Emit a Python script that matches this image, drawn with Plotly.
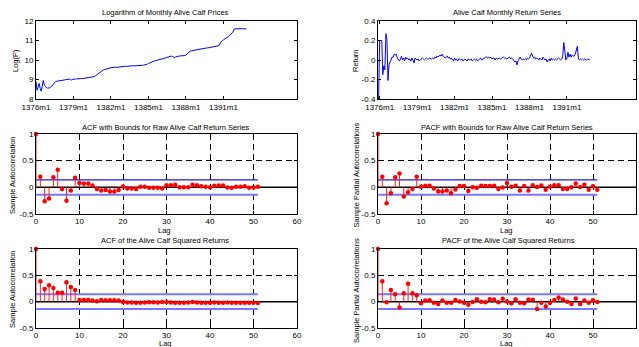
import plotly.graph_objects as go

W, H = 639, 347

# ---------------- data ----------------
log_price = [
    8.90, 8.45, 8.60, 8.80, 8.55, 8.40, 8.65, 8.95, 8.70, 8.60,
    8.58, 8.56, 8.55, 8.57, 8.60, 8.66, 8.73, 8.80, 8.86, 8.90,
    8.91, 8.92, 8.93, 8.94, 8.95, 8.96, 8.98, 8.99, 9.00, 9.00,
    9.01, 9.00, 9.02, 9.00, 8.97, 9.00, 9.02, 9.02, 9.03, 9.03,
    9.04, 9.04, 9.04, 9.05, 9.05, 9.05, 9.06, 9.06, 9.07, 9.07,
    9.08, 9.09, 9.10, 9.10, 9.11, 9.12, 9.15, 9.19, 9.23, 9.27,
    9.31, 9.36, 9.41, 9.45, 9.48, 9.50, 9.51, 9.53, 9.55, 9.57,
    9.60, 9.61, 9.62, 9.62, 9.61, 9.63, 9.64, 9.62, 9.63, 9.64,
    9.65, 9.64, 9.66, 9.67, 9.66, 9.67, 9.68, 9.67, 9.68, 9.69,
    9.68, 9.69, 9.70, 9.70, 9.71, 9.70, 9.71, 9.71, 9.72, 9.71,
    9.72, 9.72, 9.73, 9.73, 9.74, 9.75, 9.77, 9.79, 9.82, 9.85,
    9.88, 9.91, 9.93, 9.95, 9.96, 9.97, 9.98, 9.99, 10.00, 10.01,
    10.02, 10.04, 10.06, 10.08, 10.10, 10.12, 10.14, 10.17, 10.19, 10.20,
    10.20, 10.18, 10.14, 10.13, 10.16, 10.18, 10.20, 10.20, 10.21, 10.21,
    10.21, 10.22, 10.22, 10.23, 10.26, 10.32, 10.38, 10.42, 10.45, 10.47,
    10.48, 10.50, 10.51, 10.52, 10.53, 10.54, 10.55, 10.57, 10.58, 10.60,
    10.60, 10.61, 10.60, 10.61, 10.62, 10.62, 10.63, 10.64, 10.65, 10.66,
    10.67, 10.68, 10.68, 10.69, 10.70, 10.71, 10.74, 10.88, 10.97, 11.00,
    11.03, 11.06, 11.10, 11.14, 11.18, 11.22, 11.27, 11.32, 11.37, 11.42,
    11.57, 11.60, 11.60, 11.60, 11.61, 11.60, 11.60, 11.61, 11.60, 11.60,
    11.61, 11.60, 11.60,
]

returns = [
    -0.40, 0.20, 0.20, 0.20, -0.15, -0.06, -0.10, 0.27, 0.21, -0.21,
    -0.05, -0.02, 0.00, 0.03, 0.03, 0.06, 0.05, 0.06, 0.02, 0.00,
    -0.01, 0.01, 0.04, 0.00, 0.02, -0.01, 0.03, 0.01, 0.02, 0.00,
    0.01, -0.01, 0.02, 0.00, -0.03, 0.02, 0.01, 0.00, 0.01, -0.01,
    0.00, 0.01, 0.02, 0.01, 0.00, 0.01, 0.02, 0.01, 0.01, 0.02,
    0.01, 0.01, 0.02, 0.01, 0.03, 0.02, 0.04, 0.03, 0.04, 0.05,
    0.04, 0.06, 0.04, 0.03, 0.02, 0.03, 0.04, 0.02, 0.03, 0.01,
    0.02, 0.00, -0.01, 0.02, 0.00, 0.01, -0.01, 0.01, 0.01, 0.00,
    0.01, -0.01, 0.00, 0.01, 0.00, -0.01, 0.01, 0.00, 0.00, 0.01,
    -0.01, 0.00, 0.01, 0.00, 0.01, -0.01, 0.00, 0.01, 0.02, 0.00,
    0.01, 0.02, 0.02, 0.03, 0.03, 0.02, 0.03, 0.02, 0.03, 0.01,
    0.02, 0.02, 0.00, 0.02, 0.01, 0.02, 0.02, 0.01, 0.02, 0.02,
    0.03, 0.02, 0.02, 0.01, 0.02, 0.02, 0.03, 0.01, 0.02, 0.01,
    0.00, -0.02, -0.01, -0.05, -0.01, 0.02, 0.03, 0.01, 0.00, 0.01,
    0.00, 0.01, 0.00, 0.02, 0.01, 0.02, 0.05, 0.07, 0.04, 0.02,
    0.03, 0.01, 0.02, 0.01, 0.00, 0.02, 0.01, 0.00, 0.03, 0.01,
    0.00, 0.01, -0.02, 0.00, 0.01, -0.01, 0.02, 0.00, 0.01, 0.00,
    0.01, 0.00, 0.01, 0.02, 0.01, 0.00, 0.01, 0.04, 0.18, 0.10,
    0.00, 0.02, 0.08, 0.03, 0.06, 0.03, 0.05, 0.04, 0.04, 0.06,
    0.09, 0.14, 0.02, 0.00, 0.01, 0.00, 0.01, 0.00, 0.01, 0.00,
    0.00, 0.01, 0.00, 0.00,
]

date_labels = ["1376m1", "1379m1", "1382m1", "1385m1", "1388m1", "1391m1"]
date_label_months = [1, 37, 73, 109, 145, 181]

lags = list(range(52))

acf_raw = [
    1.00, 0.20, -0.26, -0.21, 0.19, 0.33, -0.03, -0.25, -0.06, 0.18,
    0.08, 0.07, 0.07, 0.035, -0.03, -0.06, -0.05, -0.08, -0.08, -0.05,
    0.015, -0.02, -0.02, -0.03, 0.01, 0.01, -0.01, -0.01, -0.01, -0.02,
    0.04, 0.04, 0.05, 0.00, 0.00, 0.00, 0.05, 0.04, 0.02, 0.01,
    0.00, 0.03, 0.035, 0.035, -0.005, -0.01, 0.01, 0.01, 0.02, -0.01,
    -0.005, 0.01,
]

pacf_raw = [
    1.00, 0.20, -0.30, -0.11, 0.19, 0.26, -0.17, -0.09, -0.03, 0.20,
    0.01, 0.03, 0.03, -0.02, -0.08, -0.08, -0.06, -0.11, -0.04, 0.025,
    0.025, -0.07, 0.00, -0.01, 0.03, 0.025, 0.025, 0.03, -0.03, -0.005,
    0.08, 0.01, 0.03, -0.06, 0.025, -0.06, 0.04, 0.005, 0.035, -0.045,
    0.01, 0.04, 0.04, -0.03, -0.03, 0.00, 0.07, 0.005, 0.05, -0.045,
    0.02, -0.045,
]

acf_sq = [
    1.00, 0.39, 0.24, 0.31, 0.26, 0.17, 0.17, 0.37, 0.28, 0.22,
    0.03, 0.03, 0.03, 0.02, 0.01, 0.03, 0.025, 0.025, 0.025, 0.02,
    -0.005, -0.015, -0.015, -0.02, -0.02, -0.015, -0.01, -0.01, -0.015, -0.005,
    -0.005, -0.015, -0.02, -0.02, -0.02, -0.015, -0.005, -0.015, -0.02, -0.02,
    -0.02, -0.015, -0.02, -0.02, -0.015, -0.02, -0.02, -0.02, -0.02, -0.02,
    -0.02, -0.025,
]

pacf_sq = [
    1.00, 0.39, -0.01, 0.22, 0.14, -0.11, 0.16, 0.34, 0.16, 0.12,
    -0.03, 0.02, 0.025, -0.02, -0.045, 0.02, -0.02, -0.02, 0.03, 0.005,
    -0.02, -0.06, -0.005, 0.045, 0.00, -0.01, 0.045, 0.04, -0.01, 0.055,
    0.005, -0.03, 0.045, -0.02, -0.03, 0.04, 0.035, -0.14, -0.02, -0.09,
    -0.02, 0.03, 0.08, 0.04, 0.00, -0.045, 0.06, -0.045, 0.02, -0.02,
    0.025, -0.005,
]

conf_bound = 0.14

# ---------------- layout helpers ----------------
def px_x(p):
    return p / W

def px_y(p):
    return 1 - p / H

FONT = "Liberation Sans, Arial, Helvetica, sans-serif"
TICKF = dict(family=FONT, size=8, color="black")
LABF = dict(family=FONT, size=7.5, color="black")

# pixel boxes: (left, right, top, bottom)
boxes = {
    1: (36, 297, 21, 99),
    2: (378, 636, 21, 99),
    3: (36, 297, 134, 214),
    4: (378, 636, 134, 214),
    5: (36, 297, 249, 328),
    6: (378, 636, 249, 328),
}

fig = go.Figure()

def ax_names(i):
    return ("x" if i == 1 else f"x{i}"), ("y" if i == 1 else f"y{i}")

# top-left: log prices
fig.add_trace(go.Scatter(x=list(range(1, len(log_price) + 1)), y=log_price,
                         mode="lines", line=dict(color="#0000ff", width=1),
                         xaxis="x", yaxis="y", showlegend=False))
# top-right: returns
fig.add_trace(go.Scatter(x=list(range(0, len(returns))), y=returns,
                         mode="lines", line=dict(color="#0000ff", width=1),
                         xaxis="x2", yaxis="y2", showlegend=False))

def add_stem(i, vals, bound_styles):
    xa, ya = ax_names(i)
    fig.add_trace(go.Scatter(x=[0, 60], y=[0, 0], mode="lines",
                             line=dict(color="black", width=1.5),
                             xaxis=xa, yaxis=ya, showlegend=False))
    (uc, uw), (lc, lw) = bound_styles
    fig.add_trace(go.Scatter(x=[0, lags[-1]], y=[conf_bound, conf_bound], mode="lines",
                             line=dict(color=uc, width=uw),
                             xaxis=xa, yaxis=ya, showlegend=False))
    fig.add_trace(go.Scatter(x=[0, lags[-1]], y=[-conf_bound, -conf_bound], mode="lines",
                             line=dict(color=lc, width=lw),
                             xaxis=xa, yaxis=ya, showlegend=False))
    sx, sy = [], []
    for l, v in zip(lags, vals):
        sx += [l, l, None]
        sy += [0, v, None]
    fig.add_trace(go.Scatter(x=sx, y=sy, mode="lines",
                             line=dict(color="#ff2020", width=1),
                             xaxis=xa, yaxis=ya, showlegend=False))
    fig.add_trace(go.Scatter(x=lags, y=vals, mode="markers",
                             marker=dict(color="#ff0000", size=4.5),
                             cliponaxis=False,
                             xaxis=xa, yaxis=ya, showlegend=False))

mid_bounds = (("#1a1ae6", 1.2), ("#7878ff", 2))
bot_bounds = (("#7878ff", 2), ("#7878ff", 2))
add_stem(3, acf_raw, mid_bounds)
add_stem(4, pacf_raw, mid_bounds)
add_stem(5, acf_sq, bot_bounds)
add_stem(6, pacf_sq, bot_bounds)

common = dict(showline=True, linecolor="black", linewidth=1, mirror="allticks",
              ticks="inside", ticklen=3, tickcolor="black", tickwidth=1,
              tickfont=TICKF, zeroline=False, fixedrange=True, automargin=False)

layout = dict(
    width=W, height=H, margin=dict(l=0, r=0, t=0, b=0, pad=0, autoexpand=False),
    paper_bgcolor="white", plot_bgcolor="white", showlegend=False,
)

for i, (l, r, t, b) in boxes.items():
    xk = "xaxis" if i == 1 else f"xaxis{i}"
    yk = "yaxis" if i == 1 else f"yaxis{i}"
    xa, ya = ax_names(i)
    xd = dict(common, domain=[px_x(l), px_x(r)], anchor=ya)
    yd = dict(common, domain=[px_y(b), px_y(t)], anchor=xa)
    if i == 1:
        xd.update(range=[1, 251.6], tickvals=date_label_months, ticktext=date_labels, showgrid=False)
        yd.update(range=[8, 12], tickvals=[8, 9, 10, 11, 12], showgrid=False)
    elif i == 2:
        xd.update(range=[-0.6, 247.4], tickvals=date_label_months, ticktext=date_labels, showgrid=False)
        yd.update(range=[-0.4, 0.4], tickvals=[-0.4, -0.2, 0, 0.2, 0.4],
                  ticktext=["-0.4", "-0.2", "0", "0.2", "0.4"], showgrid=False)
    else:
        xd.update(range=[0, 60], tickvals=[0, 10, 20, 30, 40, 50, 60], ticklabelstandoff=-1,
                  showgrid=True, gridcolor="black", gridwidth=1, griddash="6px,4px")
        yd.update(range=[-0.5, 1], tickvals=[-0.5, 0, 0.5, 1],
                  ticktext=["-0.5", "0", "0.5", "1"],
                  showgrid=True, gridcolor="black", gridwidth=1, griddash="6px,4px")
    layout[xk] = xd
    layout[yk] = yd

titles = [
    ("Logarithm of Monthly Alive Calf Prices", 166, 12.5),
    ("Alive Calf Monthly Return Series", 507, 12.5),
    ("ACF with Bounds for Raw Alive Calf Return Series", 165, 127),
    ("PACF with Bounds for Raw Alive Calf Return Series", 507, 127),
    ("ACF of the Alive Calf Squared Returns", 165, 240.5),
    ("PACF of the Alive Calf Squared Returns", 508, 240.5),
]
ylabels = [
    ("Log(P)", 16, 61),
    ("Return", 356, 61),
    ("Sample Autocorrelation", 12, 175),
    ("Sample Partial Autocorrelations", 356, 175.5),
    ("Sample Autocorrelation", 12, 289),
    ("Sample Partial Autocorrelations", 356, 291),
]
xlabels = [
    ("Lag", 164, 230.5),
    ("Lag", 506, 230.5),
    ("Lag", 165, 343.5),
    ("Lag", 506, 343.5),
]

ann = []
for txt, x, y in titles + xlabels:
    ann.append(dict(text=txt, x=px_x(x), y=px_y(y), xref="paper", yref="paper",
                    xanchor="center", yanchor="middle", showarrow=False, font=LABF))
for txt, x, y in ylabels:
    ann.append(dict(text=txt, x=px_x(x), y=px_y(y), xref="paper", yref="paper",
                    xanchor="center", yanchor="middle", showarrow=False, font=LABF,
                    textangle=-90))
layout["annotations"] = ann

fig.update_layout(**layout)
fig.write_html("out.html")
